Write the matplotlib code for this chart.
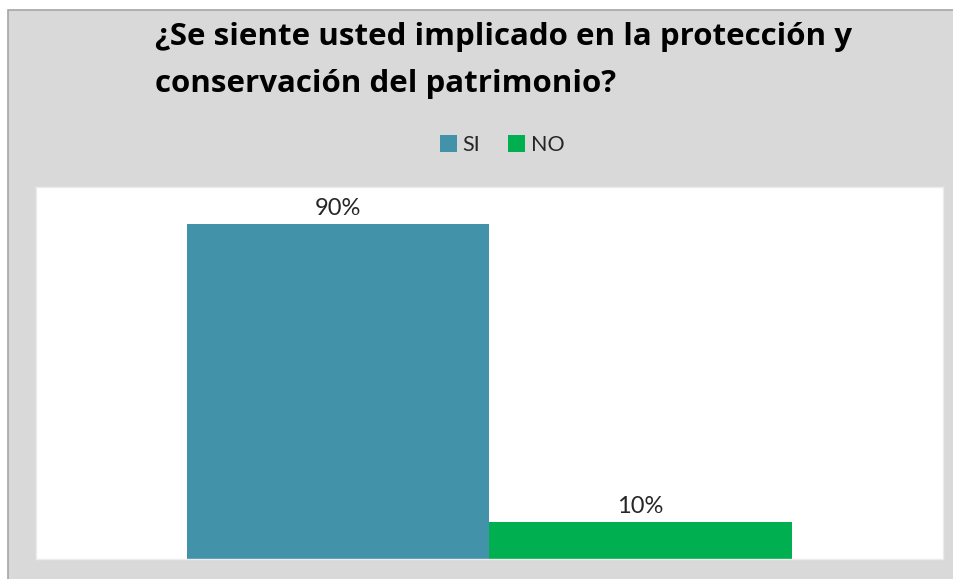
import matplotlib.pyplot as plt
from matplotlib.patches import Rectangle

plt.rcParams['font.family'] = ['Lato', 'DejaVu Sans']

# datos de la encuesta
titulo = ['¿Se siente usted implicado en la protección y',
          'conservación del patrimonio?']
series = ['SI', 'NO']
valores = [0.90, 0.10]
colores = ['#4292aa', '#00b050']

W, H = 954, 579
fig = plt.figure(figsize=(W / 100, H / 100), dpi=100)
fig.patch.set_facecolor('white')

# fondo gris del grafico con borde arriba/izquierda
fondo = Rectangle((8 / W, -0.02), 1.0, (H - 10) / H + 0.02, transform=fig.transFigure,
                  facecolor='#d9d9d9', edgecolor='#a6a6a6', linewidth=1.2, zorder=0)
fig.patches.append(fondo)

ax = fig.add_axes([36 / W, 20 / H, 907 / W, 372 / H])
ax.set_zorder(2)
ax.set_facecolor('white')

ancho = 1 / 3
barras = []
for i, (nombre, v, c) in enumerate(zip(series, valores, colores)):
    x = (i - 0.5) * ancho
    b = ax.bar(x, v, width=ancho, color=c, label=nombre, zorder=2)
    barras.append(b)
    ax.annotate('%.0f%%' % (v * 100), (x, v), xytext=(0, 3.5), textcoords='offset points',
                ha='center', va='bottom', fontsize=17, color='#262626')

ax.set_xlim(-0.5, 0.5)
ax.set_ylim(0, 1)
ax.set_xticks([])
ax.set_yticks([])
for s in ax.spines.values():
    s.set_color('#ececec')
    s.set_linewidth(1)

# titulo en dos lineas, posicion por linea base
for linea, yb in zip(titulo, [45, 92]):
    fig.text(155 / W, 1 - yb / H, linea, ha='left', va='baseline', fontsize=22.5,
             fontweight='bold', color='black', family=['Open Sans', 'DejaVu Sans'])

fig.legend(handles=[b[0] for b in barras], labels=series, loc='center',
           bbox_to_anchor=(502 / W, 1 - 145 / H), ncol=2, frameon=False,
           fontsize=15.5, handlelength=0.8, handleheight=0.8, handletextpad=0.25,
           columnspacing=1.3, labelcolor='#262626')

fig.savefig('out.png', dpi=100, facecolor=fig.get_facecolor())
